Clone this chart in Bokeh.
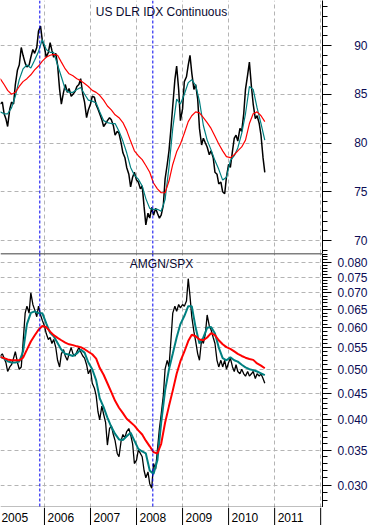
import numpy as np
import pandas as pd
from bokeh.plotting import figure
from bokeh.layouts import column
from bokeh.models import Range1d, FixedTicker, PrintfTickFormatter, Span, Label, Grid
from bokeh.embed import file_html
from bokeh.resources import INLINE

# ---------------- data ----------------
# semi-monthly observations (1st and 15th), Jan 15 2005 .. Oct 15 2010
price_dates = pd.date_range("2005-01-15", "2010-10-15", freq="SMS")
# monthly moving-average readings (15th of each month)
ma_dates = pd.date_range("2005-01-01", periods=70, freq="MS") + pd.Timedelta(days=14)

dollar_index = [
    84.0, 84.2, 83.0, 82.5, 81.7, 83.5, 84.2, 84.0, 86.0, 87.5, 88.0, 89.8, 89.0, 88.2, 87.8, 88.0,
    88.8, 89.6, 89.2, 89.8, 91.5, 92.0, 90.5,
    89.8, 88.8, 89.3, 90.3, 89.5, 88.8, 89.2, 88.0, 85.5, 84.0, 85.2, 86.0, 85.2, 85.6, 84.8, 85.0,
    85.3, 85.8, 86.0, 86.6, 85.0, 84.2, 82.6, 83.4,
    84.0, 84.8, 84.7, 83.9, 83.5, 83.0, 82.4, 81.7, 82.0, 82.3, 82.6, 82.4, 81.8, 80.8, 81.2, 81.0,
    80.0, 79.0, 78.5, 77.5, 76.8, 75.5, 76.5, 77.0,
    76.2, 76.0, 75.3, 75.6, 73.5, 71.6, 72.8, 72.3, 73.4, 72.6, 73.3, 72.8, 72.3, 72.6, 73.6, 76.3,
    77.8, 79.2, 81.5, 83.8, 86.5, 87.9, 85.5, 82.3,
    83.5, 86.3, 86.8, 88.0, 89.0, 87.2, 85.5, 86.0, 84.5, 81.5, 79.8, 80.5, 80.0, 79.6, 78.8, 79.2,
    78.5, 77.0, 76.8, 75.8, 76.0, 75.0, 74.8, 76.5,
    77.8, 77.5, 79.2, 80.5, 80.8, 80.2, 81.5, 81.2, 83.0, 85.5, 87.0, 88.3, 85.8, 84.0, 82.5, 82.8,
    82.0, 80.8, 78.5, 77.0,
]
dollar_fast_ma = [
    83.2, 83.0, 83.0, 83.6, 84.8, 86.5, 87.6, 88.0, 87.7, 88.5, 89.4, 90.6,
    89.6, 89.3, 89.3, 88.0, 86.8, 85.5, 85.2, 85.2, 85.5, 85.7, 85.0, 84.4,
    84.3, 84.1, 83.2, 82.3, 82.1, 82.0, 82.0, 81.2, 80.2, 79.0, 77.5, 76.7,
    76.3, 75.6, 74.3, 73.3, 73.2, 73.2, 73.0, 74.2, 77.5, 81.5, 84.5, 84.0,
    85.0, 86.2, 86.5, 85.9, 84.3, 81.8, 80.3, 79.3, 78.2, 77.3, 76.2, 76.5,
    78.2, 78.7, 79.5, 81.0, 83.0, 85.8, 85.5, 83.6, 82.0, 80.3,
]
dollar_slow_ma = [
    86.6, 86.0, 85.4, 85.0, 85.2, 85.8, 86.3, 86.6, 87.0, 87.5, 87.9, 88.4,
    88.8, 89.0, 89.1, 89.0, 88.3, 87.6, 87.1, 86.9, 86.6, 86.4, 86.1, 85.8,
    85.4, 85.2, 84.9, 84.4, 83.8, 83.4, 82.9, 82.6, 82.1, 81.3, 80.2, 79.2,
    78.7, 78.3, 77.7, 77.0, 75.9, 75.3, 74.9, 74.9, 76.1, 77.8, 79.1, 79.9,
    81.0, 82.2, 82.8, 83.2, 83.1, 82.6, 82.1, 81.5, 80.7, 79.9, 79.2, 78.6,
    78.5, 78.8, 79.2, 79.6, 80.3, 82.0, 83.0, 83.2, 82.8, 82.2,
]

amgn_spx = [
    0.0530, 0.0535, 0.0525, 0.0515, 0.0495, 0.0505, 0.0510, 0.0525, 0.0540, 0.0515, 0.0500, 0.0505,
    0.0560, 0.0640, 0.0660, 0.0640, 0.0700, 0.0665, 0.0650, 0.0630, 0.0660, 0.0635, 0.0620,
    0.0605, 0.0585, 0.0570, 0.0575, 0.0560, 0.0570, 0.0550, 0.0520, 0.0505, 0.0535, 0.0545, 0.0530,
    0.0520, 0.0535, 0.0550, 0.0535, 0.0530, 0.0540, 0.0550, 0.0540, 0.0530, 0.0525, 0.0510, 0.0490,
    0.0500, 0.0470, 0.0460, 0.0445, 0.0415, 0.0400, 0.0425, 0.0410, 0.0395, 0.0358, 0.0385, 0.0390,
    0.0375, 0.0365, 0.0345, 0.0340, 0.0365, 0.0375, 0.0370, 0.0380, 0.0385, 0.0375, 0.0360, 0.0330,
    0.0335, 0.0350, 0.0345, 0.0340, 0.0320, 0.0310, 0.0318, 0.0302, 0.0296, 0.0330, 0.0322, 0.0350,
    0.0385, 0.0410, 0.0445, 0.0500, 0.0520, 0.0505, 0.0570, 0.0640, 0.0660, 0.0645, 0.0665, 0.0655,
    0.0665, 0.0660, 0.0675, 0.0745, 0.0690, 0.0630, 0.0590, 0.0565, 0.0535, 0.0520, 0.0570, 0.0560,
    0.0585, 0.0635, 0.0605, 0.0595, 0.0575, 0.0560, 0.0520, 0.0505, 0.0520, 0.0505, 0.0520, 0.0500,
    0.0515, 0.0525, 0.0505, 0.0495, 0.0510, 0.0495, 0.0490, 0.0500, 0.0490, 0.0485, 0.0495, 0.0485,
    0.0490, 0.0495, 0.0480, 0.0490, 0.0485, 0.0490, 0.0480, 0.0470,
]
amgn_fast_ma = [
    0.0528, 0.0524, 0.0518, 0.0515, 0.0515, 0.0517, 0.0540, 0.0610, 0.0641, 0.0645, 0.0640, 0.0640,
    0.0612, 0.0587, 0.0578, 0.0561, 0.0545, 0.0535, 0.0533, 0.0530, 0.0536, 0.0545, 0.0538, 0.0515,
    0.0500, 0.0476, 0.0440, 0.0423, 0.0404, 0.0388, 0.0376, 0.0367, 0.0366, 0.0372, 0.0378, 0.0365,
    0.0352, 0.0348, 0.0345, 0.0320, 0.0315, 0.0335, 0.0395, 0.0455, 0.0500, 0.0535, 0.0575, 0.0610,
    0.0632, 0.0660, 0.0660, 0.0600, 0.0560, 0.0575, 0.0600, 0.0602, 0.0585, 0.0550, 0.0525, 0.0520,
    0.0527, 0.0520, 0.0517, 0.0510, 0.0504, 0.0500, 0.0498, 0.0495, 0.0491, 0.0487,
]
amgn_slow_ma = [
    0.0528, 0.0525, 0.0522, 0.0520, 0.0520, 0.0520, 0.0526, 0.0545, 0.0565, 0.0580, 0.0595, 0.0605,
    0.0602, 0.0590, 0.0581, 0.0574, 0.0568, 0.0562, 0.0558, 0.0556, 0.0553, 0.0551, 0.0546, 0.0540,
    0.0534, 0.0524, 0.0503, 0.0488, 0.0470, 0.0452, 0.0435, 0.0422, 0.0412, 0.0402, 0.0396, 0.0390,
    0.0382, 0.0375, 0.0365, 0.0356, 0.0347, 0.0345, 0.0360, 0.0395, 0.0425, 0.0455, 0.0490, 0.0518,
    0.0540, 0.0566, 0.0582, 0.0578, 0.0570, 0.0568, 0.0575, 0.0586, 0.0581, 0.0568, 0.0558, 0.0551,
    0.0547, 0.0541, 0.0535, 0.0530, 0.0526, 0.0523, 0.0521, 0.0513, 0.0508, 0.0502,
]

year_ticks = [2005, 2006, 2007, 2008, 2009, 2010, 2011, 2012]
year_labels = ["2005", "2006", "2007", "2008", "2009", "2010", "2011"]
dollar_ticks = [70, 75, 80, 85, 90]
ratio_ticks = [0.030, 0.035, 0.040, 0.045, 0.050, 0.055, 0.060, 0.065, 0.070, 0.075, 0.080]
marker_dates = [2005.899, 2008.354]


def dec_year(idx):
    return np.asarray(idx.year + (idx.dayofyear - 1) / np.where(idx.is_leap_year, 366.0, 365.0))


px = dec_year(price_dates)
mx = dec_year(ma_dates)
n1 = min(len(px), len(dollar_index))
n2 = min(len(px), len(amgn_spx))

X0, X1 = 2005.045, 2012.04
TOP_Y = (68.67, 94.62)
BOT_Y = (0.02719, 0.08324)

FONT = "Liberation Sans"
LABEL_COLOR = "#0c0c55"
TEAL = "#008080"
PAD = "\u2007\u2008\u2007"   # figure/punctuation spaces: right-align "90" with "0.080"


def panel(height, yr, ytype, ticks, minor):
    p = figure(width=371, height=height, x_range=Range1d(X0, X1), y_range=Range1d(*yr),
               y_axis_type=ytype, y_axis_location="right", x_axis_location=None,
               output_backend="svg", toolbar_location=None,
               min_border=0, min_border_left=0, min_border_top=0,
               min_border_right=49, min_border_bottom=0)
    p.outline_line_color = None
    p.background_fill_color = "white"
    p.border_fill_color = "white"
    p.grid.visible = False
    p.add_layout(Grid(dimension=0, ticker=FixedTicker(ticks=year_ticks),
                      grid_line_color="#b4b4b4", grid_line_dash="4 3"))
    p.add_layout(Grid(dimension=1, ticker=FixedTicker(ticks=ticks),
                      grid_line_color="#b4b4b4", grid_line_dash="4 3"))
    ax = p.yaxis[0]
    ax.ticker = FixedTicker(ticks=ticks, minor_ticks=minor)
    ax.axis_line_color = "black"
    ax.major_tick_line_color = "black"
    ax.minor_tick_line_color = "black"
    ax.major_tick_out = 9
    ax.major_tick_in = 0
    ax.minor_tick_out = 5
    ax.minor_tick_in = 0
    ax.major_label_standoff = 6
    ax.major_label_text_font = FONT
    ax.major_label_text_font_size = "12px"
    ax.major_label_text_color = LABEL_COLOR
    for d in marker_dates:
        p.add_layout(Span(location=d, dimension="height", line_color="#0000ee",
                          line_dash="3 2", line_width=1))
    return p


# ---------------- top panel: US dollar index ----------------
p1 = panel(253, TOP_Y, "linear", dollar_ticks, list(range(68, 95)))
p1.yaxis[0].major_label_overrides = {t: PAD + str(t) for t in dollar_ticks}
p1.line(px[:n1], dollar_index[:n1], line_color="black", line_width=1.5)
p1.line(mx, dollar_fast_ma, line_color=TEAL, line_width=1.2)
p1.line(mx, dollar_slow_ma, line_color="#ff0000", line_width=1.2)
p1.add_layout(Label(x=(X0 + X1) / 2, y=TOP_Y[1], text="US DLR IDX Continuous",
                    text_align="center", text_baseline="top", y_offset=-4,
                    text_font=FONT, text_font_size="12px", text_color="#0a0a30"))

# ---------------- bottom panel: AMGN / SPX (log) ----------------
ratio_minor = [round(0.027 + 0.001 * i, 3) for i in range(57)]
p2 = panel(254, BOT_Y, "log", ratio_ticks, ratio_minor)
p2.yaxis[0].formatter = PrintfTickFormatter(format="%.3f")
p2.line(px[:n2], amgn_spx[:n2], line_color="black", line_width=1.3)
p2.line(mx, amgn_fast_ma, line_color=TEAL, line_width=2)
p2.line(mx, amgn_slow_ma, line_color="#ff0000", line_width=2)
p2.add_layout(Label(x=(X0 + X1) / 2, y=BOT_Y[1], text="AMGN/SPX",
                    text_align="center", text_baseline="top", y_offset=-3,
                    text_font=FONT, text_font_size="12px", text_color="#0a0a30"))
p2.add_layout(Span(location=BOT_Y[1], dimension="width", line_color="black", line_width=1.3))
p2.add_layout(Span(location=BOT_Y[0], dimension="width", line_color="black", line_width=1.3))

# ---------------- date strip (year ticks + labels) ----------------
p3 = figure(width=371, height=18, x_range=p2.x_range, y_range=Range1d(0, 1),
            x_axis_location=None, y_axis_location=None,
            output_backend="svg", toolbar_location=None,
            min_border=0, min_border_left=0, min_border_top=0,
            min_border_right=49, min_border_bottom=0)
p3.outline_line_color = None
p3.grid.visible = False
p3.segment(x0=year_ticks, y0=[0] * len(year_ticks), x1=year_ticks, y1=[1] * len(year_ticks),
           line_color="black", line_width=1)
for yr, lab in zip(year_ticks, year_labels):
    p3.add_layout(Label(x=yr, y=0.5, text=lab, text_align="left", text_baseline="middle",
                        x_offset=3, y_offset=-1, text_font=FONT, text_font_size="12px",
                        text_color="black"))

layout = column(p1, p2, p3, spacing=0)
open("out.html", "w").write(file_html(layout, INLINE))
